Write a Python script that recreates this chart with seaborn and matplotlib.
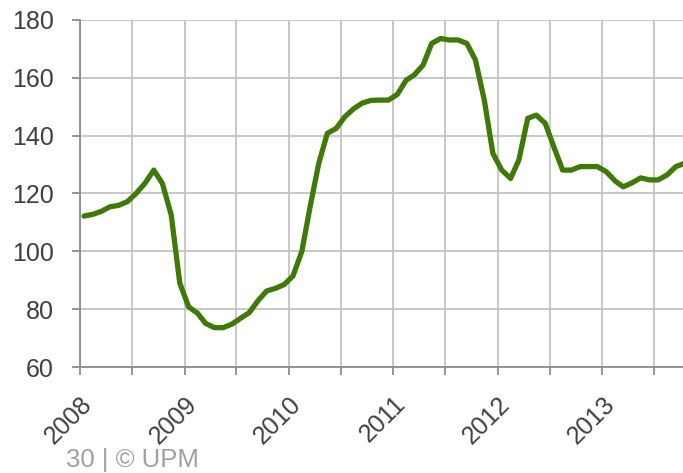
import matplotlib
matplotlib.use("Agg")
import matplotlib.pyplot as plt
import matplotlib.dates as mdates
import pandas as pd
import seaborn as sns

# monthly index values, Jan 2008 .. Oct 2013
start_month = "2008-01-01"
values = [
    112.2, 112.8, 113.8, 115.4, 115.9, 117.2, 120.0, 123.5, 128.1, 123.5,
    112.6, 89.0, 80.8, 78.6, 75.1, 73.6, 73.6, 74.8, 76.8, 78.8,
    83.0, 86.3, 87.2, 88.5, 91.5, 100.0, 115.0, 130.4, 140.8, 142.5,
    146.5, 149.3, 151.3, 152.2, 152.3, 152.3, 154.3, 159.2, 161.0, 164.4,
    171.9, 173.6, 173.1, 173.1, 171.9, 166.2, 152.3, 133.9, 128.1, 125.2,
    131.6, 146.0, 147.1, 144.3, 136.2, 128.1, 128.1, 129.3, 129.3, 129.3,
    127.5, 124.3, 122.3, 123.7, 125.4, 124.7, 124.7, 126.4, 129.3, 130.4,
]
y_ticks = [60, 80, 100, 120, 140, 160, 180]
footer = "30 | \u00a9 UPM"

dates = pd.date_range(start_month, periods=len(values), freq="MS") + pd.Timedelta(days=14)
df = pd.DataFrame({"date": dates, "value": values})

sns.set_theme(style="white")
plt.rcParams["font.family"] = ["Liberation Sans", "DejaVu Sans"]

fig = plt.figure(figsize=(6.83, 4.73), dpi=100)
ax = fig.add_axes([80 / 683, 1 - 367 / 473, 1 - 80 / 683, (367 - 20) / 473])

grid_col = "#c4c4c4"
axis_col = "#8c8c8c"
text_col = "#404040"

sns.lineplot(data=df, x="date", y="value", ax=ax, color="#3f7a08",
             linewidth=3.8, zorder=3)

ax.set_xlim(pd.Timestamp("2008-01-01"), pd.Timestamp("2013-10-10"))
ax.set_ylim(60, 180)
ax.set_yticks(y_ticks)

ax.xaxis.set_major_locator(mdates.YearLocator())
ax.xaxis.set_major_formatter(mdates.DateFormatter("%Y"))
ax.xaxis.set_minor_locator(mdates.MonthLocator(bymonth=7))

ax.grid(True, which="both", axis="x", color=grid_col, linewidth=1.3, zorder=0)
ax.grid(True, which="major", axis="y", color=grid_col, linewidth=1.3, zorder=0)

for s in ["top", "right"]:
    ax.spines[s].set_visible(False)
for s in ["left", "bottom"]:
    ax.spines[s].set_color(axis_col)
    ax.spines[s].set_linewidth(1.3)

ax.tick_params(axis="both", which="both", direction="out", color=axis_col,
               width=1.3, length=6, labelsize=18, labelcolor=text_col,
               bottom=True, left=True)
ax.tick_params(axis="x", which="major", pad=12)
ax.tick_params(axis="y", pad=13)

for lbl in ax.get_xticklabels():
    lbl.set_rotation(45)
    lbl.set_ha("right")
    lbl.set_rotation_mode("anchor")

ax.set_xlabel("")
ax.set_ylabel("")

fig.text(66 / 683, 1 - 467 / 473, footer, color="#a0a0a0", fontsize=18.5,
         ha="left", va="baseline")

fig.savefig("out.png", dpi=100)
plt.close(fig)
